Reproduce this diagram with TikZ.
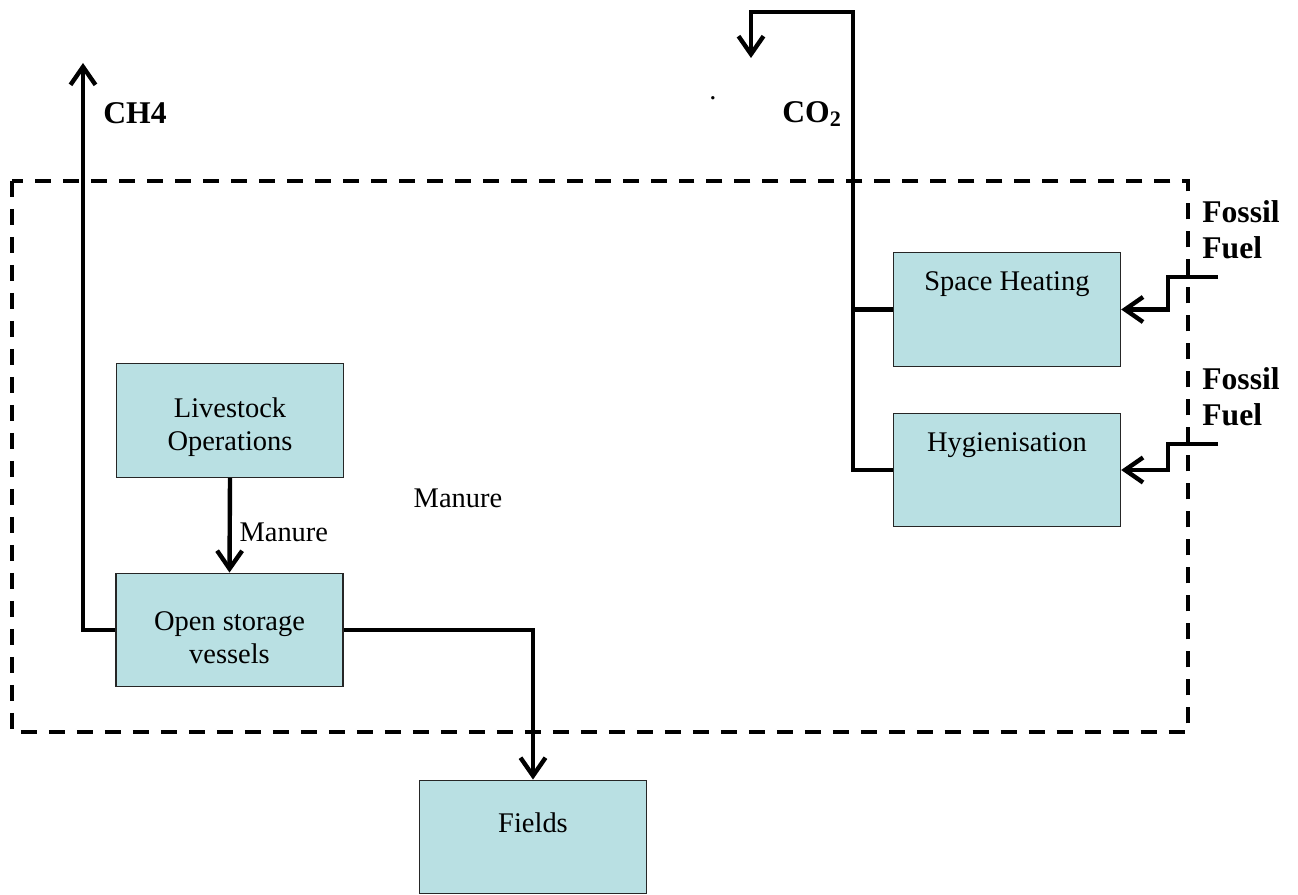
\documentclass[tikz,border=0pt]{standalone}
\usepackage{fontspec}
\setmainfont{Liberation Serif}
\usepackage{xcolor}
\usetikzlibrary{arrows.meta,positioning}
\definecolor{boxfill}{RGB}{185,224,227}

\begin{document}
\begin{tikzpicture}[x=0.02cm,y=-0.02cm,>={Straight Barb[length=3.6mm,width=5mm]},
  font=\fontsize{16.2}{18.6}\selectfont,
  unit/.style={draw=black!85,line width=0.8pt,fill=boxfill,minimum width=4.54cm,minimum height=2.27cm,inner sep=0pt},
  midtext/.style={align=center,yshift=-0.13cm},
  toptext/.style={anchor=north,yshift=-0.3cm},
  flow/.style={line width=2.5pt},
  tag/.style={font=\fontsize{18}{20.4}\selectfont\bfseries,align=left}]
\useasboundingbox (0,0) rectangle (1298,895);
% system boundary
\draw[line width=1.9pt,dash pattern=on 0.32cm off 0.24cm] (12,181) rectangle (1188,732);

\node[unit,label={[midtext]center:Livestock\\Operations}] (stock) at (230,420.5) {};
\node[unit,label={[midtext,yshift=-0.03cm]center:Open storage\\vessels}] (store) at (229.5,630) {};
\node[unit,label={[toptext,yshift=-0.24cm]north:Fields}] (fields) at (533,837) {};
\node[unit,label={[toptext,yshift=0.03cm]north:Space Heating}] (heat) at (1007,309.5) {};
\node[unit,label={[toptext,yshift=0.03cm]north:Hygienisation}] (hyg) at (1007,470) {};

\coordinate (ch4top) at (83,63);
\coordinate (co2bend) at (853,12);
\coordinate (co2tip) at (751,58);
\coordinate (fuel1) at (1218,277);
\coordinate (fuel2) at (1218,444);

\draw[flow,->] (store.west) -| (ch4top);
\draw[flow,->] (stock.south) -- node[right=1pt,yshift=-0.14cm] {Manure} (store.north);
\draw[flow,->] (store.east) -| (fields.north);
\draw[flow,->] (hyg.west) -| (co2bend) -| (co2tip);
\draw[flow] (heat.west) -- (heat.west -| co2bend);
\draw[flow,->] (fuel1) -- ++(-50,0) |- (heat.east);
\draw[flow,->] (fuel2) -- ++(-50,0) |- (hyg.east);

\node[tag] (ch4) at (135,113) {CH4};
\node[tag] (co2) at (812,114) {CO\textsubscript{2}};
\node (dot) at (713,98) {.};
\node (manure) at (458,498) {Manure};
\node[tag] (fossil1) at (1241,230) {Fossil\\Fuel};
\node[tag] (fossil2) at (1241,397) {Fossil\\Fuel};
\end{tikzpicture}
\end{document}
